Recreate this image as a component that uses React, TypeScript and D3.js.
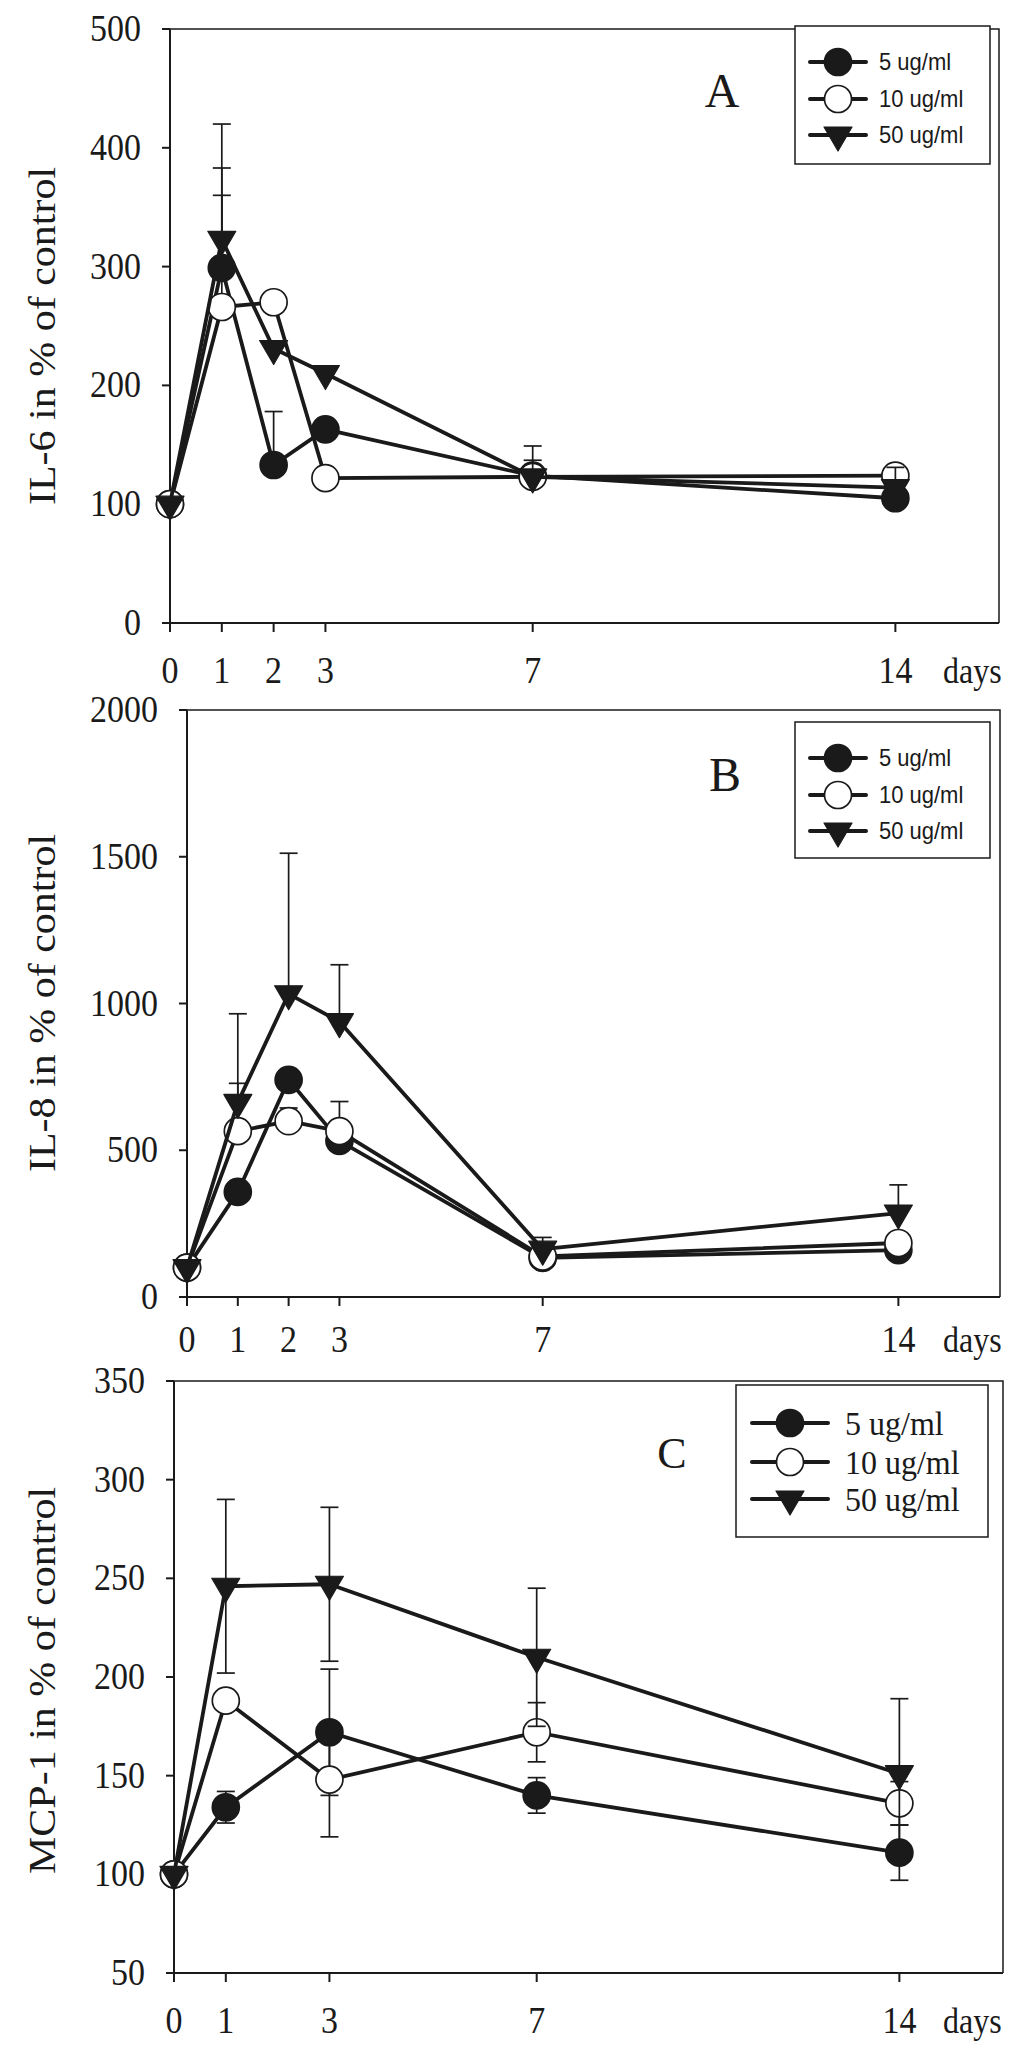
import React, { useRef, useEffect } from 'react'
import * as d3 from 'd3'

// x positions (days)
const daysAB = [0, 1, 2, 3, 7, 14]
const daysC = [0, 1, 3, 7, 14]
const seriesNames = ['5 ug/ml', '10 ug/ml', '50 ug/ml']

// Panel A: IL-6
const il6Ticks = [0, 100, 200, 300, 400, 500]
const il6_5 = [100, 299, 133, 163, 124, 105]
const il6_10 = [100, 266, 270, 122, 123, 124]
const il6_50 = [100, 323, 231, 210, 123, 114]
const il6Err5 = [0, 84, 45, 0, 13, 0]
const il6Err10 = [0, 94, 0, 0, 0, 0]
const il6Err50 = [0, 97, 0, 0, 26, 17]

// Panel B: IL-8
const il8Ticks = [0, 500, 1000, 1500, 2000]
const il8_5 = [100, 358, 740, 532, 133, 160]
const il8_10 = [100, 565, 599, 565, 138, 184]
const il8_50 = [100, 663, 1033, 938, 163, 286]
const il8Err5 = [0, 0, 0, 0, 0, 0]
const il8Err10 = [0, 163, 45, 101, 0, 0]
const il8Err50 = [0, 302, 479, 194, 40, 96]

// Panel C: MCP-1
const mcpTicks = [50, 100, 150, 200, 250, 300, 350]
const mcp_5 = [100, 134, 172, 140, 111]
const mcp_10 = [100, 188, 148, 172, 136]
const mcp_50 = [100, 246, 247, 210, 151]
const mcpErr5 = [0, 8, 32, 9, 14]
const mcpErr10 = [0, 0, 29, 15, 11]
const mcpErr50 = [0, 44, 39, 35, 38]

const X_MAX = 16
const INK = '#1a1a1a'
const SERIF = '"Liberation Serif", "Times New Roman", serif'
const SANS = '"Liberation Sans", Arial, sans-serif'

interface Panel {
  days: number[]
  ticks: number[]
  values: number[][]
  errors: number[][]
  bothWays: boolean
  left: number
  right: number
  top: number
  bottom: number
  title: string
  titleBottom: number
  letter: string
  letterX: number
  letterY: number
  letterSize: number
  xLabelY: number
  legend: {
    x: number; y: number; w: number; h: number
    rows: number[]
    markerX: number; lineX1: number; lineX2: number; textX: number
    font: string; fontSize: number
  }
}

const panels: Panel[] = [
  {
    days: daysAB, ticks: il6Ticks,
    values: [il6_5, il6_10, il6_50], errors: [il6Err5, il6Err10, il6Err50], bothWays: false,
    left: 170, right: 999, top: 29, bottom: 623,
    title: 'IL-6 in % of control', titleBottom: 505,
    letter: 'A', letterX: 722, letterY: 107, letterSize: 48,
    xLabelY: 683,
    legend: { x: 795, y: 26, w: 195, h: 138, rows: [62, 99, 135], markerX: 838, lineX1: 810, lineX2: 866, textX: 879, font: SANS, fontSize: 22 },
  },
  {
    days: daysAB, ticks: il8Ticks,
    values: [il8_5, il8_10, il8_50], errors: [il8Err5, il8Err10, il8Err50], bothWays: false,
    left: 187, right: 1000, top: 710, bottom: 1297,
    title: 'IL-8 in % of control', titleBottom: 1172,
    letter: 'B', letterX: 725, letterY: 791, letterSize: 48,
    xLabelY: 1352,
    legend: { x: 795, y: 722, w: 195, h: 136, rows: [758, 795, 831], markerX: 838, lineX1: 810, lineX2: 866, textX: 879, font: SANS, fontSize: 22 },
  },
  {
    days: daysC, ticks: mcpTicks,
    values: [mcp_5, mcp_10, mcp_50], errors: [mcpErr5, mcpErr10, mcpErr50], bothWays: true,
    left: 174, right: 1003, top: 1381, bottom: 1973,
    title: 'MCP-1 in % of control', titleBottom: 1874,
    letter: 'C', letterX: 672, letterY: 1468, letterSize: 44,
    xLabelY: 2033,
    legend: { x: 736, y: 1385, w: 252, h: 152, rows: [1423, 1462, 1499], markerX: 790, lineX1: 752, lineX2: 828, textX: 845, font: SERIF, fontSize: 32 },
  },
]

function drawMarker(g: d3.Selection<SVGGElement, unknown, null, undefined>, kind: number, cx: number, cy: number) {
  if (kind === 2) {
    g.append('path')
      .attr('d', `M${cx - 14},${cy - 8}L${cx + 14},${cy - 8}L${cx},${cy + 16}Z`)
      .attr('fill', INK)
      .attr('stroke', INK)
      .attr('stroke-width', 1.2)
      .attr('stroke-linejoin', 'round')
  } else {
    g.append('circle')
      .attr('cx', cx)
      .attr('cy', cy)
      .attr('r', 13.5)
      .attr('fill', kind === 0 ? INK : '#ffffff')
      .attr('stroke', INK)
      .attr('stroke-width', 1.7)
  }
}

export default function App() {
  const svgRef = useRef<SVGSVGElement>(null)

  useEffect(() => {
    if (!svgRef.current) return
    const svg = d3.select(svgRef.current)
    svg.selectAll('*').remove()

    panels.forEach(p => {
      const g = svg.append('g')
      const x = d3.scaleLinear().domain([0, X_MAX]).range([p.left, p.right])
      const y = d3.scaleLinear()
        .domain([p.ticks[0], p.ticks[p.ticks.length - 1]])
        .range([p.bottom, p.top])

      // frame (top + right)
      g.append('path')
        .attr('d', `M${p.left},${p.top}H${p.right}V${p.bottom}`)
        .attr('fill', 'none')
        .attr('stroke', INK)
        .attr('stroke-width', 1.5)

      // axes
      g.append('line')
        .attr('x1', p.left).attr('x2', p.left)
        .attr('y1', p.top).attr('y2', p.bottom + 9)
        .attr('stroke', INK).attr('stroke-width', 2)
      g.append('line')
        .attr('x1', p.left - 8).attr('x2', p.right)
        .attr('y1', p.bottom).attr('y2', p.bottom)
        .attr('stroke', INK).attr('stroke-width', 2)

      // y ticks + labels
      p.ticks.forEach(t => {
        g.append('line')
          .attr('x1', p.left - 8).attr('x2', p.left)
          .attr('y1', y(t)).attr('y2', y(t))
          .attr('stroke', INK).attr('stroke-width', 2)
        g.append('text')
          .attr('transform', `translate(${p.left - 29},${y(t) + 12}) scale(1,1.1)`)
          .attr('text-anchor', 'end')
          .style('font-family', SERIF)
          .style('font-size', '34px')
          .style('fill', INK)
          .text(t)
      })

      // x ticks + labels
      p.days.forEach(d => {
        g.append('line')
          .attr('x1', x(d)).attr('x2', x(d))
          .attr('y1', p.bottom).attr('y2', p.bottom + 9)
          .attr('stroke', INK).attr('stroke-width', 2)
        g.append('text')
          .attr('transform', `translate(${x(d)},${p.xLabelY}) scale(1,1.1)`)
          .attr('text-anchor', 'middle')
          .style('font-family', SERIF)
          .style('font-size', '34px')
          .style('fill', INK)
          .text(d)
      })
      g.append('text')
        .attr('transform', `translate(943,${p.xLabelY}) scale(1,1.1)`)
        .style('font-family', SERIF)
        .style('font-size', '32px')
        .style('fill', INK)
        .text('days')

      // y axis title
      g.append('text')
        .attr('transform', `translate(55,${p.titleBottom}) rotate(-90) scale(1,0.9)`)
        .attr('text-anchor', 'start')
        .style('font-family', SERIF)
        .style('font-size', '42px')
        .style('fill', INK)
        .text(p.title)

      // panel letter
      g.append('text')
        .attr('x', p.letterX)
        .attr('y', p.letterY)
        .attr('text-anchor', 'middle')
        .style('font-family', SERIF)
        .style('font-size', `${p.letterSize}px`)
        .style('fill', INK)
        .text(p.letter)

      // series: error bars, line, then markers — one series at a time
      const line = d3.line<number>()
        .x((_, i) => x(p.days[i]))
        .y(v => y(v))

      p.values.forEach((vals, s) => {
        const sg = g.append('g')
        const errs = p.errors[s]
        vals.forEach((v, i) => {
          const e = errs[i]
          if (!e) return
          const cx = x(p.days[i])
          const lo = p.bothWays ? v - e : v
          sg.append('line')
            .attr('x1', cx).attr('x2', cx)
            .attr('y1', y(lo)).attr('y2', y(v + e))
            .attr('stroke', INK).attr('stroke-width', 1.7)
          const caps = p.bothWays ? [v + e, v - e] : [v + e]
          caps.forEach(c => {
            sg.append('line')
              .attr('x1', cx - 9).attr('x2', cx + 9)
              .attr('y1', y(c)).attr('y2', y(c))
              .attr('stroke', INK).attr('stroke-width', 1.7)
          })
        })
        sg.append('path')
          .datum(vals)
          .attr('d', line)
          .attr('fill', 'none')
          .attr('stroke', INK)
          .attr('stroke-width', 3.8)
          .attr('stroke-linejoin', 'round')
        vals.forEach((v, i) => drawMarker(sg, s, x(p.days[i]), y(v)))
      })

      // legend
      const L = p.legend
      g.append('rect')
        .attr('x', L.x).attr('y', L.y)
        .attr('width', L.w).attr('height', L.h)
        .attr('fill', '#ffffff')
        .attr('stroke', INK)
        .attr('stroke-width', 1.5)
      seriesNames.forEach((name, s) => {
        const ry = L.rows[s]
        g.append('line')
          .attr('x1', L.lineX1).attr('x2', L.lineX2)
          .attr('y1', ry).attr('y2', ry)
          .attr('stroke', INK).attr('stroke-width', 4)
          .attr('stroke-linecap', 'round')
        drawMarker(g, s, L.markerX, ry)
        g.append('text')
          .attr('transform', `translate(${L.textX},${ry + L.fontSize * 0.36}) scale(1,1.08)`)
          .style('font-family', L.font)
          .style('font-size', `${L.fontSize}px`)
          .style('fill', INK)
          .text(name)
      })
    })
  }, [])

  return (
    <svg
      ref={svgRef}
      width={1024}
      height={2054}
      style={{ position: 'absolute', left: 0, top: 0, background: '#ffffff', display: 'block' }}
    />
  )
}
